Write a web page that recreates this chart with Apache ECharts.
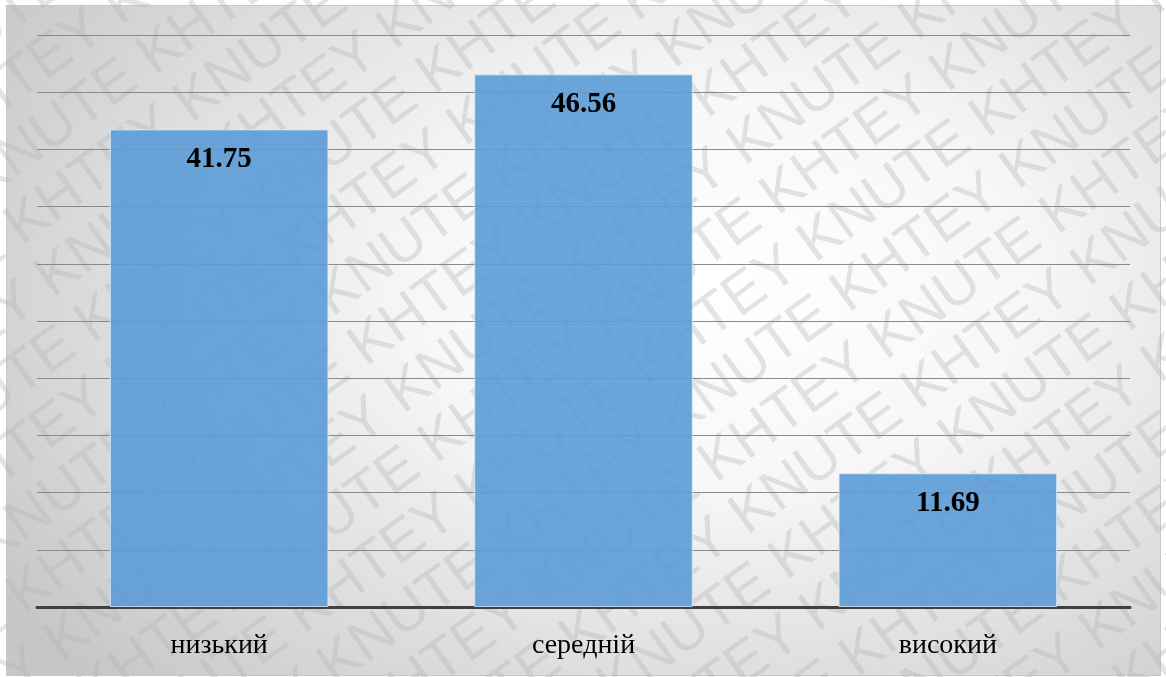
<!DOCTYPE html>
<html>
<head>
    <meta charset="utf-8">
    <title>ECharts</title>
    <script src="https://cdn.jsdelivr.net/npm/echarts@6/dist/echarts.min.js"></script>
    <style>
        html, body {
            width: 100%;
            height: 100%;
            margin: 0;
            background: #ffffff;
        }
        #frame {
            position: absolute;
            left: 6px;
            top: 5px;
            width: 1153px;
            height: 669px;
            border: 1px solid #c8c8c8;
            background: radial-gradient(ellipse 75% 85% at 62% 42%, #ffffff 0%, #f7f7f7 35%, #d6d6d6 80%, #c6c6c6 100%);
        }
        #main {
            position: absolute;
            left: 0;
            top: 0;
            width: 1166px;
            height: 677px;
        }
    </style>
</head>
<body>
    <div id="frame"></div>
    <div id="main"></div>
    <script type="text/javascript">
        var categories = ['низький', 'середній', 'високий'];
        var values = [41.75, 46.56, 11.69];

        var myChart = echarts.init(document.getElementById('main'));

        // watermark rows
        var marks = [];
        var line = '';
        for (var k = 0; k < 8; k++) {
            line += 'KNUTE KHTEY ';
        }
        for (var i = -12; i <= 12; i++) {
            marks.push({
                type: 'text',
                x: -1250 + (i % 2 === 0 ? 0 : 215),
                y: i * 60,
                silent: true,
                style: {
                    text: line,
                    fill: 'rgba(175,180,185,0.36)',
                    font: '58px "Liberation Sans", Arial, sans-serif',
                    textVerticalAlign: 'middle'
                }
            });
        }

        var option = {
            backgroundColor: 'transparent',
            animation: false,
            grid: {
                left: 37,
                right: 36,
                top: 35,
                bottom: 70
            },
            xAxis: {
                type: 'category',
                data: categories,
                axisLine: { lineStyle: { color: '#404040', width: 3 } },
                axisTick: { show: false },
                axisLabel: {
                    color: '#000',
                    fontFamily: '"Liberation Serif", "Times New Roman", serif',
                    fontSize: 28,
                    margin: 25
                }
            },
            yAxis: {
                type: 'value',
                min: 0,
                max: 50,
                interval: 5,
                axisLabel: { show: false },
                axisLine: { show: false },
                axisTick: { show: false },
                splitLine: { lineStyle: { color: '#8a8a8a', width: 1 } }
            },
            series: [{
                type: 'bar',
                data: values,
                barWidth: '60%',
                itemStyle: {
                    color: 'rgba(91,155,213,0.9)',
                    borderColor: 'rgba(220,235,250,0.8)',
                    borderWidth: 1
                },
                label: {
                    show: true,
                    position: 'insideTop',
                    distance: 16,
                    color: '#000',
                    fontFamily: '"Liberation Serif", "Times New Roman", serif',
                    fontWeight: 'bold',
                    fontSize: 29
                }
            }],
            graphic: [{
                type: 'group',
                x: 583,
                y: 338,
                rotation: 36 * Math.PI / 180,
                z: 100,
                silent: true,
                children: marks
            }]
        };

        myChart.setOption(option);
    </script>
</body>
</html>
